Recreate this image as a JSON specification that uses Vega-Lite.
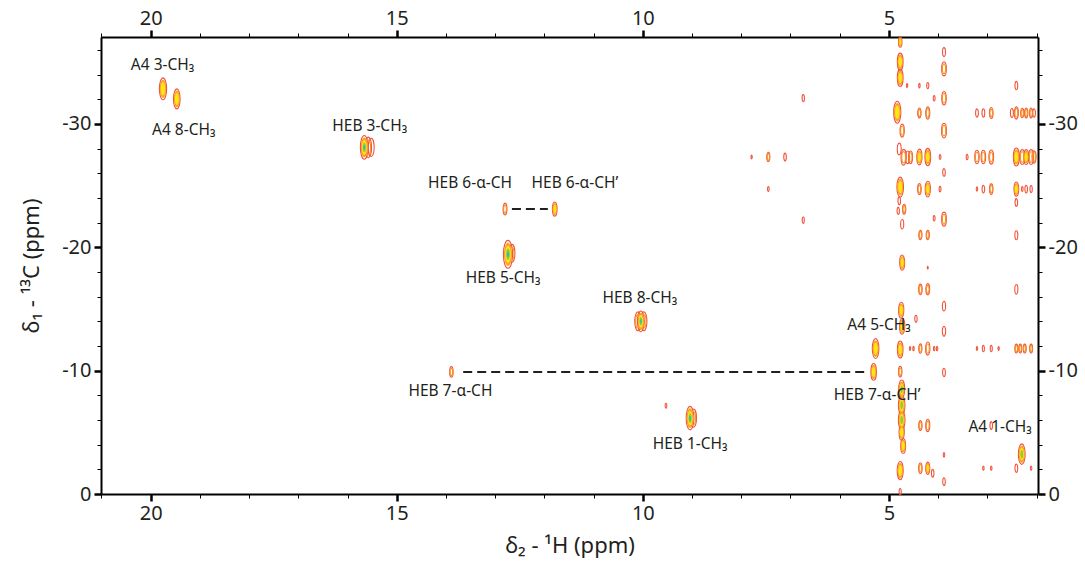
{
  "$schema": "https://vega.github.io/schema/vega-lite/v6.json",
  "width": 937,
  "height": 457,
  "autosize": {"type": "none"},
  "padding": {"left": 101, "top": 37, "right": 47, "bottom": 79},
  "background": "white",
  "config": {
    "view": {"stroke": null},
    "font": "Noto Sans",
    "axis": {
      "domainColor": "#000000",
      "domainWidth": 2,
      "tickColor": "#000000",
      "labelColor": "#231f20",
      "titleColor": "#231f20",
      "labelFont": "Noto Sans",
      "titleFont": "Noto Sans",
      "labelFontSize": 20,
      "titleFontSize": 22,
      "titleFontWeight": "normal",
      "grid": false,
      "labelOverlap": false,
      "labelFlush": false,
      "labelBound": false
    }
  },
  "datasets": {
    "peaks": [
      {"h": 19.75, "c": -32.85, "v": 480, "n": 3},
      {"h": 19.47, "c": -32.03, "v": 400, "n": 3},
      {"h": 15.52, "c": -28.1, "v": 330, "n": 1},
      {"h": 15.58, "c": -28.1, "v": 420, "n": 2},
      {"h": 15.66, "c": -28.1, "v": 560, "n": 5},
      {"h": 12.8, "c": -23.1, "v": 140, "n": 2},
      {"h": 11.79, "c": -23.1, "v": 200, "n": 3},
      {"h": 12.66, "c": -19.5, "v": 330, "n": 2},
      {"h": 12.74, "c": -19.43, "v": 780, "n": 5},
      {"h": 10.1, "c": -14.0, "v": 360, "n": 2},
      {"h": 9.98, "c": -14.0, "v": 360, "n": 2},
      {"h": 10.04, "c": -14.0, "v": 430, "n": 5},
      {"h": 13.89, "c": -9.9, "v": 110, "n": 2},
      {"h": 5.31, "c": -9.9, "v": 280, "n": 3},
      {"h": 5.27, "c": -11.79, "v": 400, "n": 3},
      {"h": 8.97, "c": -6.15, "v": 330, "n": 2},
      {"h": 9.04, "c": -6.15, "v": 550, "n": 5},
      {"h": 2.3, "c": -3.23, "v": 420, "n": 4},
      {"h": 9.53, "c": -7.15, "v": 25, "n": 1},
      {"h": 4.77, "c": -36.64, "v": 110, "n": 3},
      {"h": 4.77, "c": -35.04, "v": 300, "n": 3},
      {"h": 4.77, "c": -33.74, "v": 300, "n": 3},
      {"h": 4.83, "c": -30.95, "v": 480, "n": 3},
      {"h": 4.73, "c": -29.46, "v": 170, "n": 2},
      {"h": 4.79, "c": -27.97, "v": 140, "n": 1},
      {"h": 4.7, "c": -27.3, "v": 250, "n": 2},
      {"h": 4.62, "c": -27.3, "v": 160, "n": 1},
      {"h": 4.56, "c": -27.3, "v": 160, "n": 2},
      {"h": 4.77, "c": -24.88, "v": 400, "n": 3},
      {"h": 4.79, "c": -23.76, "v": 60, "n": 1},
      {"h": 4.69, "c": -23.09, "v": 100, "n": 2},
      {"h": 4.81, "c": -22.95, "v": 50, "n": 1},
      {"h": 4.73, "c": -21.87, "v": 90, "n": 1},
      {"h": 4.73, "c": -18.76, "v": 230, "n": 3},
      {"h": 4.75, "c": -14.9, "v": 250, "n": 3},
      {"h": 4.73, "c": -13.6, "v": 250, "n": 3},
      {"h": 4.77, "c": -11.71, "v": 290, "n": 3},
      {"h": 4.77, "c": -9.92, "v": 110, "n": 2},
      {"h": 4.74, "c": -8.5, "v": 330, "n": 4},
      {"h": 4.74, "c": -7.2, "v": 400, "n": 4},
      {"h": 4.74, "c": -6.0, "v": 400, "n": 4},
      {"h": 4.74, "c": -5.0, "v": 250, "n": 3},
      {"h": 4.71, "c": -3.9, "v": 220, "n": 3},
      {"h": 4.77, "c": -1.9, "v": 330, "n": 3},
      {"h": 4.77, "c": -0.19, "v": 40, "n": 1},
      {"h": 4.63, "c": -33.11, "v": 15, "n": 1},
      {"h": 4.38, "c": -33.11, "v": 20, "n": 1},
      {"h": 4.21, "c": -33.11, "v": 40, "n": 1},
      {"h": 4.38, "c": -30.89, "v": 100, "n": 2},
      {"h": 4.21, "c": -30.89, "v": 150, "n": 2},
      {"h": 4.38, "c": -27.32, "v": 250, "n": 3},
      {"h": 4.21, "c": -27.32, "v": 300, "n": 3},
      {"h": 4.38, "c": -24.72, "v": 120, "n": 2},
      {"h": 4.21, "c": -24.72, "v": 250, "n": 3},
      {"h": 4.36, "c": -21.0, "v": 90, "n": 2},
      {"h": 4.21, "c": -21.0, "v": 90, "n": 2},
      {"h": 4.21, "c": -18.35, "v": 8, "n": 1},
      {"h": 4.36, "c": -16.59, "v": 110, "n": 2},
      {"h": 4.21, "c": -16.59, "v": 130, "n": 2},
      {"h": 4.57, "c": -11.79, "v": 15, "n": 1},
      {"h": 4.5, "c": -11.79, "v": 20, "n": 1},
      {"h": 4.36, "c": -11.79, "v": 90, "n": 2},
      {"h": 4.21, "c": -11.79, "v": 170, "n": 2},
      {"h": 4.08, "c": -11.79, "v": 20, "n": 1},
      {"h": 4.02, "c": -11.79, "v": 20, "n": 1},
      {"h": 4.36, "c": -5.55, "v": 100, "n": 2},
      {"h": 4.21, "c": -5.55, "v": 150, "n": 2},
      {"h": 4.36, "c": -2.09, "v": 110, "n": 2},
      {"h": 4.21, "c": -2.09, "v": 150, "n": 3},
      {"h": 4.11, "c": -1.68, "v": 60, "n": 1},
      {"h": 4.45, "c": -14.2, "v": 50, "n": 1},
      {"h": 4.08, "c": -32.09, "v": 30, "n": 1},
      {"h": 4.08, "c": -22.36, "v": 30, "n": 1},
      {"h": 3.96, "c": -27.32, "v": 25, "n": 1},
      {"h": 3.96, "c": -24.72, "v": 30, "n": 1},
      {"h": 3.88, "c": -35.83, "v": 80, "n": 1},
      {"h": 3.88, "c": -34.47, "v": 200, "n": 2},
      {"h": 3.88, "c": -32.09, "v": 180, "n": 2},
      {"h": 3.88, "c": -29.46, "v": 220, "n": 2},
      {"h": 3.88, "c": -26.07, "v": 60, "n": 1},
      {"h": 3.88, "c": -22.28, "v": 200, "n": 2},
      {"h": 3.88, "c": -15.23, "v": 90, "n": 1},
      {"h": 3.88, "c": -13.2, "v": 100, "n": 1},
      {"h": 3.88, "c": -9.86, "v": 70, "n": 1},
      {"h": 3.88, "c": -3.17, "v": 20, "n": 1},
      {"h": 3.88, "c": -1.0, "v": 60, "n": 1},
      {"h": 3.41, "c": -27.32, "v": 30, "n": 1},
      {"h": 3.21, "c": -30.89, "v": 70, "n": 1},
      {"h": 3.21, "c": -27.32, "v": 180, "n": 2},
      {"h": 3.21, "c": -24.72, "v": 20, "n": 1},
      {"h": 3.21, "c": -11.79, "v": 15, "n": 1},
      {"h": 3.08, "c": -30.89, "v": 70, "n": 1},
      {"h": 3.08, "c": -27.32, "v": 180, "n": 2},
      {"h": 3.08, "c": -24.72, "v": 60, "n": 1},
      {"h": 3.08, "c": -11.79, "v": 40, "n": 1},
      {"h": 3.08, "c": -2.09, "v": 20, "n": 1},
      {"h": 2.92, "c": -30.89, "v": 120, "n": 2},
      {"h": 2.92, "c": -27.32, "v": 200, "n": 2},
      {"h": 2.92, "c": -24.72, "v": 110, "n": 2},
      {"h": 2.92, "c": -11.79, "v": 40, "n": 1},
      {"h": 2.92, "c": -5.55, "v": 60, "n": 1},
      {"h": 2.92, "c": -2.09, "v": 20, "n": 1},
      {"h": 2.77, "c": -11.79, "v": 15, "n": 1},
      {"h": 2.41, "c": -33.11, "v": 70, "n": 1},
      {"h": 2.5, "c": -30.89, "v": 80, "n": 1},
      {"h": 2.41, "c": -30.89, "v": 150, "n": 2},
      {"h": 2.41, "c": -27.32, "v": 320, "n": 3},
      {"h": 2.41, "c": -24.72, "v": 200, "n": 3},
      {"h": 2.41, "c": -23.63, "v": 60, "n": 1},
      {"h": 2.41, "c": -20.98, "v": 80, "n": 1},
      {"h": 2.41, "c": -16.59, "v": 90, "n": 1},
      {"h": 2.41, "c": -11.79, "v": 80, "n": 2},
      {"h": 2.41, "c": -2.09, "v": 70, "n": 1},
      {"h": 2.29, "c": -30.89, "v": 90, "n": 2},
      {"h": 2.29, "c": -27.32, "v": 220, "n": 2},
      {"h": 2.29, "c": -24.72, "v": 25, "n": 1},
      {"h": 2.33, "c": -11.79, "v": 80, "n": 2},
      {"h": 2.21, "c": -30.89, "v": 100, "n": 2},
      {"h": 2.21, "c": -27.32, "v": 220, "n": 3},
      {"h": 2.21, "c": -24.72, "v": 60, "n": 1},
      {"h": 2.24, "c": -11.79, "v": 80, "n": 2},
      {"h": 2.11, "c": -30.89, "v": 100, "n": 2},
      {"h": 2.11, "c": -27.32, "v": 220, "n": 2},
      {"h": 2.11, "c": -24.72, "v": 50, "n": 1},
      {"h": 2.11, "c": -11.79, "v": 80, "n": 2},
      {"h": 2.11, "c": -2.09, "v": 20, "n": 1},
      {"h": 2.05, "c": -30.89, "v": 70, "n": 1},
      {"h": 2.05, "c": -27.32, "v": 150, "n": 2},
      {"h": 7.79, "c": -27.32, "v": 15, "n": 1},
      {"h": 7.45, "c": -27.32, "v": 90, "n": 2},
      {"h": 7.45, "c": -24.72, "v": 25, "n": 1},
      {"h": 7.11, "c": -27.32, "v": 60, "n": 1},
      {"h": 6.74, "c": -32.09, "v": 50, "n": 1},
      {"h": 6.74, "c": -22.2, "v": 40, "n": 1}
    ],
    "labels": [
      {"h": 19.76, "c": -34.74, "t": "A4 3-CH₃"},
      {"h": 19.33, "c": -29.51, "t": "A4 8-CH₃"},
      {"h": 15.55, "c": -29.86, "t": "HEB 3-CH₃"},
      {"h": 13.51, "c": -25.18, "t": "HEB 6-α-CH"},
      {"h": 11.38, "c": -25.18, "t": "HEB 6-α-CH’"},
      {"h": 12.84, "c": -17.54, "t": "HEB 5-CH₃"},
      {"h": 10.06, "c": -15.93, "t": "HEB 8-CH₃"},
      {"h": 13.91, "c": -8.32, "t": "HEB 7-α-CH"},
      {"h": 9.04, "c": -4.04, "t": "HEB 1-CH₃"},
      {"h": 5.2, "c": -13.74, "t": "A4 5-CH₃"},
      {"h": 5.24, "c": -8.05, "t": "HEB 7-α-CH’"},
      {"h": 2.74, "c": -5.42, "t": "A4 1-CH₃"}
    ],
    "links": [
      {"h1": 12.66, "h2": 11.93, "c": -23.1},
      {"h1": 13.65, "h2": 5.44, "c": -9.9}
    ]
  },
  "layer": [
    {
      "data": {"name": "peaks"},
      "mark": {"type": "point", "shape": "M0,-1C0.182,-1,0.33,-0.552,0.33,0C0.33,0.552,0.182,1,0,1C-0.182,1,-0.33,0.552,-0.33,0C-0.33,-0.552,-0.182,-1,0,-1Z", "filled": false, "stroke": "#f0543c", "strokeWidth": 1.1, "opacity": 1},
      "encoding": {
        "x": {"field": "h", "type": "quantitative", "scale": {"domain": [21.01, 1.97], "nice": false, "zero": false},
          "axis": {"orient": "bottom", "values": [21,20,19,18,17,16,15,14,13,12,11,10,9,8,7,6,5,4,3,2],
            "labelExpr": "datum.value % 5 === 0 ? '' + datum.value : ''",
            "tickSize": {"condition": {"test": "datum.value % 5 === 0", "value": 7}, "value": 4},
            "tickWidth": {"condition": {"test": "datum.value % 5 === 0", "value": 2.5}, "value": 1},
            "labelPadding": 2, "title": "δ₂ - ¹H  (ppm)", "titlePadding": 12}},
        "y": {"field": "c", "type": "quantitative", "scale": {"domain": [0, -37.05], "nice": false, "zero": false},
          "axis": {"orient": "left", "values": [-36,-34,-32,-30,-28,-26,-24,-22,-20,-18,-16,-14,-12,-10,-8,-6,-4,-2,0],
            "labelExpr": "datum.value % 10 === 0 ? '' + datum.value : ''",
            "tickSize": {"condition": {"test": "datum.value % 10 === 0", "value": 7}, "value": 4},
            "tickWidth": {"condition": {"test": "datum.value % 10 === 0", "value": 2.5}, "value": 1},
            "labelPadding": 3, "title": "δ₁ - ¹³C (ppm)", "titlePadding": 18}},
        "size": {"field": "v", "type": "quantitative", "scale": {"domain": [0, 1000], "range": [0, 1000]}, "legend": null}
      }
    },
    {
      "data": {"name": "peaks"},
      "transform": [{"filter": "datum.n >= 2"}],
      "mark": {"type": "point", "shape": "M0,-1C0.182,-1,0.33,-0.552,0.33,0C0.33,0.552,0.182,1,0,1C-0.182,1,-0.33,0.552,-0.33,0C-0.33,-0.552,-0.182,-1,0,-1Z", "filled": false, "stroke": "#f7941d", "strokeWidth": 1.1, "opacity": 1},
      "encoding": {
        "x": {"field": "h", "type": "quantitative", "scale": {"domain": [21.01, 1.97], "nice": false, "zero": false},
          "axis": {"orient": "top", "values": [21,20,19,18,17,16,15,14,13,12,11,10,9,8,7,6,5,4,3,2],
            "labelExpr": "datum.value % 5 === 0 ? '' + datum.value : ''",
            "tickSize": {"condition": {"test": "datum.value % 5 === 0", "value": 7}, "value": 4},
            "tickWidth": {"condition": {"test": "datum.value % 5 === 0", "value": 2.5}, "value": 1},
            "labelPadding": 2, "title": null}},
        "y": {"field": "c", "type": "quantitative", "scale": {"domain": [0, -37.05], "nice": false, "zero": false},
          "axis": {"orient": "right", "values": [-36,-34,-32,-30,-28,-26,-24,-22,-20,-18,-16,-14,-12,-10,-8,-6,-4,-2,0],
            "labelExpr": "datum.value % 10 === 0 ? '' + datum.value : ''",
            "tickSize": {"condition": {"test": "datum.value % 10 === 0", "value": 7}, "value": 4},
            "tickWidth": {"condition": {"test": "datum.value % 10 === 0", "value": 2.5}, "value": 1},
            "labelPadding": 3, "title": null}},
        "size": {"field": "v", "type": "quantitative", "scale": {"domain": [0, 1000], "range": [0, 500]}, "legend": null}
      }
    },
    {
      "data": {"name": "peaks"},
      "transform": [{"filter": "datum.n >= 3"}],
      "mark": {"type": "point", "shape": "M0,-1C0.182,-1,0.33,-0.552,0.33,0C0.33,0.552,0.182,1,0,1C-0.182,1,-0.33,0.552,-0.33,0C-0.33,-0.552,-0.182,-1,0,-1Z", "filled": true, "fill": "#f8a22e", "strokeWidth": 0, "opacity": 1},
      "encoding": {
        "x": {"field": "h", "type": "quantitative", "scale": {"domain": [21.01, 1.97], "nice": false, "zero": false}, "axis": null},
        "y": {"field": "c", "type": "quantitative", "scale": {"domain": [0, -37.05], "nice": false, "zero": false}, "axis": null},
        "size": {"field": "v", "type": "quantitative", "scale": {"domain": [0, 1000], "range": [0, 700]}, "legend": null}
      }
    },
    {
      "data": {"name": "peaks"},
      "transform": [{"filter": "datum.n >= 3"}],
      "mark": {"type": "point", "shape": "M0,-1C0.182,-1,0.33,-0.552,0.33,0C0.33,0.552,0.182,1,0,1C-0.182,1,-0.33,0.552,-0.33,0C-0.33,-0.552,-0.182,-1,0,-1Z", "filled": true, "fill": "#ffe512", "strokeWidth": 0, "opacity": 1},
      "encoding": {
        "x": {"field": "h", "type": "quantitative", "scale": {"domain": [21.01, 1.97], "nice": false, "zero": false}, "axis": null},
        "y": {"field": "c", "type": "quantitative", "scale": {"domain": [0, -37.05], "nice": false, "zero": false}, "axis": null},
        "size": {"field": "v", "type": "quantitative", "scale": {"domain": [0, 1000], "range": [0, 380]}, "legend": null}
      }
    },
    {
      "data": {"name": "peaks"},
      "transform": [{"filter": "datum.n >= 4"}],
      "mark": {"type": "point", "shape": "M0,-1C0.182,-1,0.33,-0.552,0.33,0C0.33,0.552,0.182,1,0,1C-0.182,1,-0.33,0.552,-0.33,0C-0.33,-0.552,-0.182,-1,0,-1Z", "filled": true, "fill": "#93cb3c", "strokeWidth": 0, "opacity": 1},
      "encoding": {
        "x": {"field": "h", "type": "quantitative", "scale": {"domain": [21.01, 1.97], "nice": false, "zero": false}, "axis": null},
        "y": {"field": "c", "type": "quantitative", "scale": {"domain": [0, -37.05], "nice": false, "zero": false}, "axis": null},
        "size": {"field": "v", "type": "quantitative", "scale": {"domain": [0, 1000], "range": [0, 170]}, "legend": null}
      }
    },
    {
      "data": {"name": "peaks"},
      "transform": [{"filter": "datum.n >= 5"}],
      "mark": {"type": "point", "shape": "M0,-1C0.182,-1,0.33,-0.552,0.33,0C0.33,0.552,0.182,1,0,1C-0.182,1,-0.33,0.552,-0.33,0C-0.33,-0.552,-0.182,-1,0,-1Z", "filled": true, "fill": "#19c3c9", "strokeWidth": 0, "opacity": 1},
      "encoding": {
        "x": {"field": "h", "type": "quantitative", "scale": {"domain": [21.01, 1.97], "nice": false, "zero": false}, "axis": null},
        "y": {"field": "c", "type": "quantitative", "scale": {"domain": [0, -37.05], "nice": false, "zero": false}, "axis": null},
        "size": {"field": "v", "type": "quantitative", "scale": {"domain": [0, 1000], "range": [0, 45]}, "legend": null}
      }
    },
    {
      "data": {"name": "links"},
      "mark": {"type": "rule", "color": "#231f20", "strokeWidth": 2, "strokeDash": [9, 5]},
      "encoding": {
        "x": {"field": "h1", "type": "quantitative", "scale": {"domain": [21.01, 1.97], "nice": false, "zero": false}, "axis": null},
        "x2": {"field": "h2"},
        "y": {"field": "c", "type": "quantitative", "scale": {"domain": [0, -37.05], "nice": false, "zero": false}, "axis": null}
      }
    },
    {
      "data": {"name": "labels"},
      "mark": {"type": "text", "font": "Noto Sans", "fontSize": 15.5, "color": "#231f20", "align": "center", "baseline": "middle"},
      "encoding": {
        "x": {"field": "h", "type": "quantitative", "scale": {"domain": [21.01, 1.97], "nice": false, "zero": false}, "axis": null},
        "y": {"field": "c", "type": "quantitative", "scale": {"domain": [0, -37.05], "nice": false, "zero": false}, "axis": null},
        "text": {"field": "t", "type": "nominal"}
      }
    }
  ],
  "resolve": {"scale": {"size": "independent"}, "axis": {"x": "independent", "y": "independent"}}
}
